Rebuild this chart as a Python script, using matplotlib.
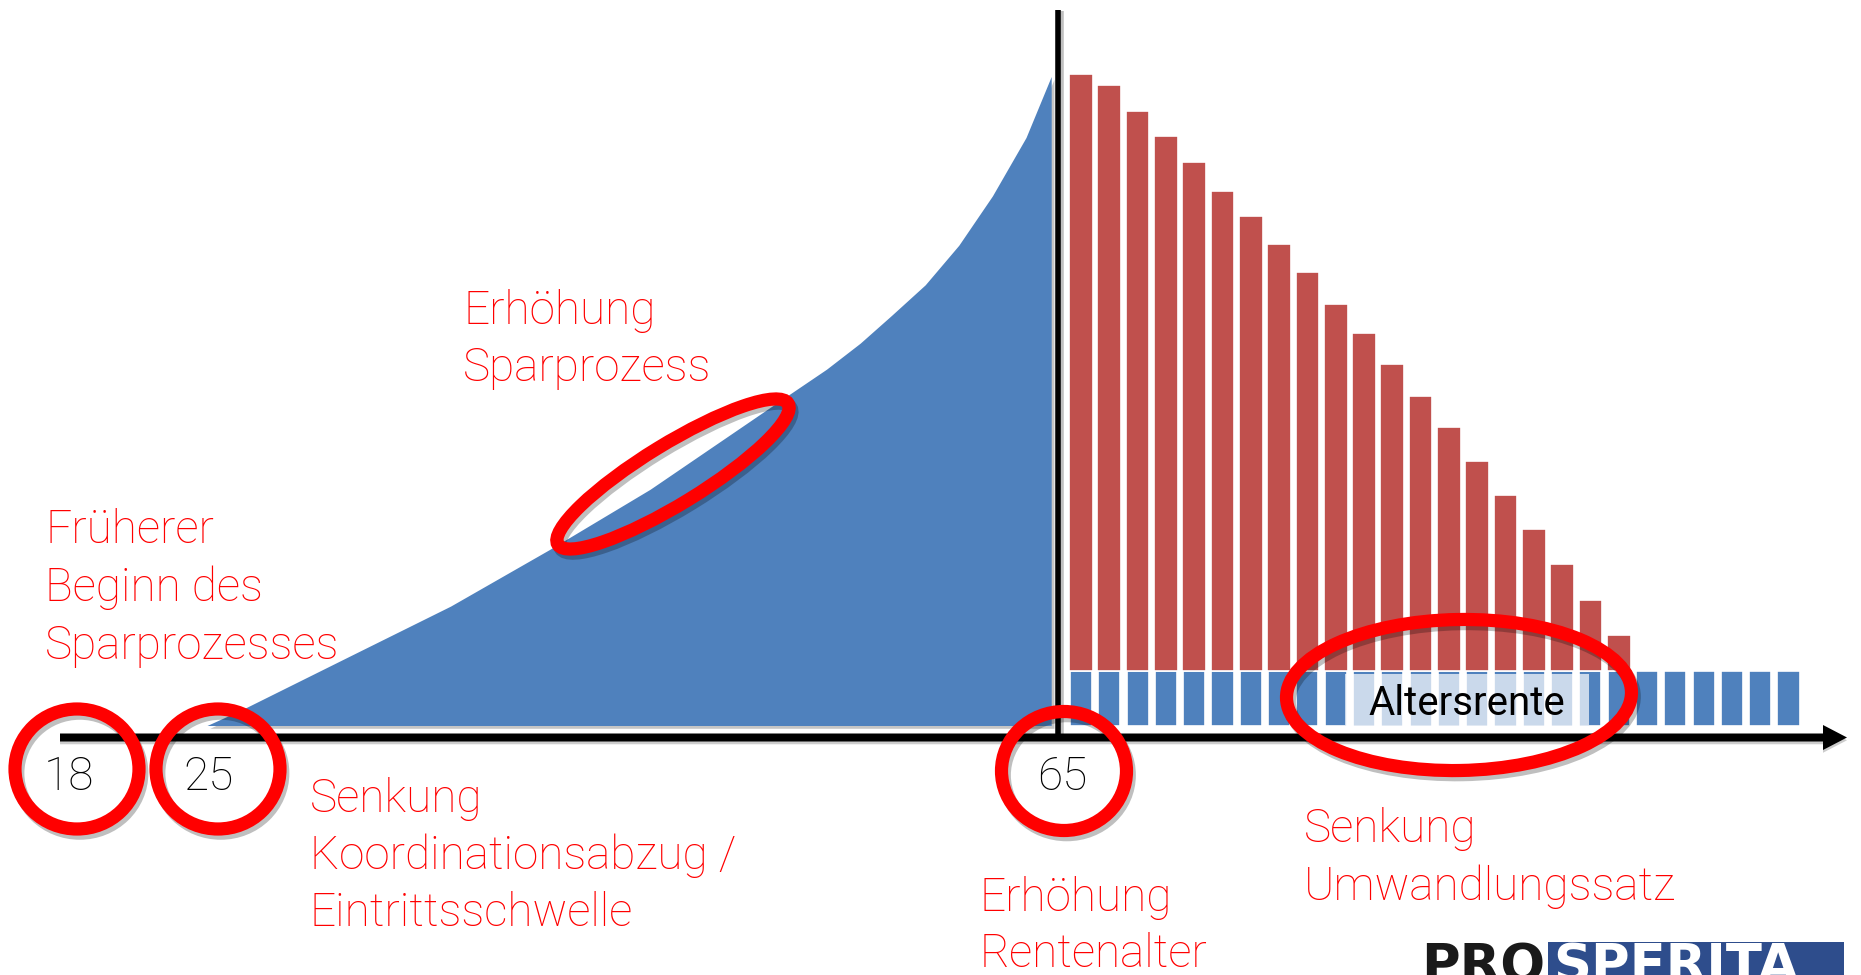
#!/usr/bin/env python3
"""Schematic of a pension: capital build-up until 65, then the payout years."""
import matplotlib
matplotlib.use("Agg")
import matplotlib.pyplot as plt
import matplotlib.patheffects as pe
import numpy as np
from matplotlib.patches import Ellipse, Rectangle

# --- values -------------------------------------------------------------------
# saving phase: accumulated capital (in % of the capital at 65) by age
save_age = [24.5, 26.2, 31.3, 36.1, 40.8, 45.6, 51.4, 54.0, 55.6, 57.1, 58.7,
            60.3, 61.9, 63.5, 64.7]
save_capital = [0.0, 2.5, 10.7, 18.4, 27.1, 36.4, 49.2, 54.9, 58.9, 63.2, 67.9,
                74.0, 81.6, 90.6, 100.0]

# payout phase, one bar per year: capital still left and the yearly pension
remaining_capital = [92.0, 90.3, 86.3, 82.4, 78.4, 74.0, 70.1, 65.7, 61.4, 56.5,
                     52.1, 47.3, 42.4, 37.6, 32.3, 27.1, 21.8, 16.5, 10.9, 5.5]
pension = [8.5] * 26

age_labels = ["18", "25", "65"]
retirement_age = 65

# --- layout (slide pixels) ----------------------------------------------------
W, H, DPI = 1861, 975, 100
X65, Y0 = 1058, 726            # pixel of age 65 and of zero capital
PX_YEAR, PX_UNIT = 21.0, 6.49
X_BAR0, PX_BAR = 1081, 28.3    # centre of first payout bar, bar pitch

BLUE = "#4f81bd"
BAR_RED = "#c0504d"
RED = "#ff0000"
FONT = ["Roboto", "DejaVu Sans"]

fig = plt.figure(figsize=(W / DPI, H / DPI), dpi=DPI)
ax = fig.add_axes([0, 0, 1, 1])    # age axis
axr = fig.add_axes([0, 0, 1, 1])   # payout years
axt = fig.add_axes([0, 0, 1, 1])   # annotations, slide pixels
for a in (ax, axr, axt):
    a.set_axis_off()

ylim = (-(H - Y0) / PX_UNIT, Y0 / PX_UNIT)
ax.set_xlim(retirement_age - X65 / PX_YEAR, retirement_age + (W - X65) / PX_YEAR)
ax.set_ylim(*ylim)
axr.set_xlim(-X_BAR0 / PX_BAR, (W - X_BAR0) / PX_BAR)
axr.set_ylim(*ylim)
axt.set_xlim(0, W)
axt.set_ylim(H, 0)

# saving phase area
ax.fill(save_age + [save_age[-1]], save_capital + [0.0], color=BLUE, lw=0,
        path_effects=[pe.SimplePatchShadow(offset=(2, -2), shadow_rgbFace="0.55", alpha=0.5),
                      pe.Normal()])

# time axis with arrow and the vertical line at retirement
axis_y = -11.5 / PX_UNIT
x_start = retirement_age - (X65 - 60) / PX_YEAR
x_end = retirement_age + (1847 - X65) / PX_YEAR
ax.arrow(x_start, axis_y, x_end - x_start, 0, width=8 / PX_UNIT,
         head_width=25 / PX_UNIT, head_length=24 / PX_YEAR,
         length_includes_head=True, fc="black", lw=0, zorder=3,
         path_effects=[pe.SimplePatchShadow(offset=(0, -2), shadow_rgbFace="0.5", alpha=0.4),
                       pe.Normal()])
ax.plot([retirement_age, retirement_age], [axis_y, (Y0 - 10) / PX_UNIT],
        color="black", lw=4, solid_capstyle="butt", zorder=3,
        path_effects=[pe.SimpleLineShadow(offset=(2, -1), shadow_color="k", alpha=0.25),
                      pe.Normal()])

# payout bars: pension at the bottom, remaining capital stacked on top
idx_p = np.arange(len(pension))
idx_r = np.arange(len(remaining_capital))
axr.bar(idx_p, pension, width=0.78, color=BLUE, edgecolor="white", lw=1.2)
axr.bar(idx_r, remaining_capital, bottom=pension[:len(remaining_capital)], width=0.84,
        color=BAR_RED, edgecolor="white", lw=1.2)

# "Altersrente" label box
axt.add_patch(Rectangle((1345, 674), 244, 51, fc="white", alpha=0.7, lw=0, zorder=2))
axt.text(1467, 715, "Altersrente", family=FONT, weight="normal", fontsize=29,
         color="black", ha="center", va="baseline", zorder=3)

# age labels under the axis
for lab, x in zip(age_labels, [69, 208, 1062]):
    axt.text(x, 790, lab, family=FONT, weight="light", fontsize=33, color="black",
             ha="center", va="baseline", zorder=3)

# red rings
ring_fx = [pe.SimpleLineShadow(offset=(2, -3), shadow_color="k", alpha=0.25), pe.Normal()]
rings = [((77, 769), 124, 120, 0), ((218, 769), 124, 120, 0), ((1064, 771), 125, 119, 0),
         ((673, 474), 270, 60, -31.5), ((1459, 695), 345, 151, -1)]
for (cx, cy), w, h, ang in rings:
    axt.add_patch(Ellipse((cx, cy), w, h, angle=ang, fill=False, ec=RED, lw=9.5,
                          zorder=4, path_effects=ring_fx))

# red annotations
notes = [
    (45, 543, 58, ["Früherer", "Beginn des", "Sparprozesses"]),
    (463, 324, 57, ["Erhöhung", "Sparprozess"]),
    (310, 812, 57, ["Senkung", "Koordinationsabzug /", "Eintrittsschwelle"]),
    (980, 911, 56, ["Erhöhung", "Rentenalter"]),
    (1304, 842, 58, ["Senkung", "Umwandlungssatz"]),
]
for x, y, step, lines in notes:
    for i, line in enumerate(lines):
        axt.text(x, y + i * step, line, family=FONT, weight="light", fontsize=33,
                 color=RED, ha="left", va="baseline", zorder=5)

# logo, cut by the slide edge as in the original
axt.add_patch(Rectangle((1548, 942), 296, 40, fc="#2e4d8c", lw=0, zorder=2))
axt.text(1421, 982, "PRO", family="DejaVu Sans", weight="bold", fontsize=38,
         color="#1a1a1a", ha="left", va="baseline", zorder=3)
axt.text(1553, 982, "SPERITA", family="DejaVu Sans", weight="bold", fontsize=38,
         color="white", ha="left", va="baseline", zorder=3)

fig.savefig("out.png", dpi=DPI)
